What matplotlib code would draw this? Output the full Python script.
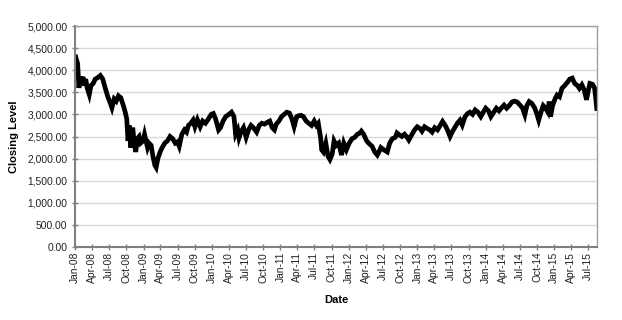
import matplotlib
matplotlib.use("Agg")
import matplotlib.pyplot as plt
import matplotlib.dates as mdates
import matplotlib.ticker as mticker
import pandas as pd

dates = [
"2008-01-02","2008-01-08","2008-01-15","2008-01-22","2008-01-29","2008-02-05","2008-02-12","2008-02-20","2008-02-27",
"2008-03-06","2008-03-17","2008-03-26","2008-04-07","2008-04-18","2008-05-01","2008-05-15","2008-05-28","2008-06-10",
"2008-06-24","2008-07-08","2008-07-16","2008-07-28","2008-08-08","2008-08-20","2008-09-01","2008-09-15","2008-09-25",
"2008-10-03","2008-10-10","2008-10-16","2008-10-24","2008-11-04","2008-11-12","2008-11-20","2008-11-28","2008-12-08",
"2008-12-16","2008-12-29",
"2009-01-06","2009-01-14","2009-01-22","2009-01-30","2009-02-10","2009-02-20","2009-03-02","2009-03-09","2009-03-18",
"2009-03-30","2009-04-10","2009-04-24","2009-05-08","2009-05-22","2009-06-05","2009-06-19","2009-07-01","2009-07-10",
"2009-07-24","2009-08-07","2009-08-18","2009-08-28","2009-09-10","2009-09-22","2009-10-02","2009-10-15","2009-10-30",
"2009-11-12","2009-11-27","2009-12-10","2009-12-28",
"2010-01-08","2010-01-20","2010-02-05","2010-02-15","2010-03-01","2010-03-15","2010-04-01","2010-04-15","2010-04-28",
"2010-05-07","2010-05-18","2010-05-25","2010-06-04","2010-06-18","2010-07-02","2010-07-15","2010-07-28","2010-08-10",
"2010-08-27","2010-09-10","2010-09-24","2010-10-08","2010-10-22","2010-11-05","2010-11-18","2010-11-30","2010-12-10",
"2010-12-24",
"2011-01-07","2011-01-21","2011-02-04","2011-02-18","2011-03-03","2011-03-15","2011-03-29","2011-04-08","2011-04-20",
"2011-05-04","2011-05-18","2011-06-01","2011-06-16","2011-06-30","2011-07-12","2011-07-22","2011-08-04","2011-08-09",
"2011-08-18","2011-08-31","2011-09-12","2011-09-22","2011-10-04","2011-10-14","2011-10-26","2011-11-08","2011-11-23",
"2011-12-05","2011-12-19",
"2012-01-03","2012-01-18","2012-02-01","2012-02-15","2012-03-01","2012-03-08","2012-03-20","2012-04-05","2012-04-20",
"2012-05-04","2012-05-18","2012-06-01","2012-06-06","2012-06-20","2012-07-05","2012-07-24","2012-08-06","2012-08-20",
"2012-09-05","2012-09-14","2012-09-28","2012-10-10","2012-10-24","2012-11-07","2012-11-16","2012-12-03","2012-12-17",
"2012-12-31",
"2013-01-15","2013-01-25","2013-02-08","2013-02-22","2013-03-08","2013-03-20","2013-04-03","2013-04-18","2013-05-02",
"2013-05-15","2013-05-28","2013-06-10","2013-06-24","2013-07-05","2013-07-19","2013-08-02","2013-08-16","2013-08-28",
"2013-09-12","2013-09-26","2013-10-08","2013-10-22","2013-11-05","2013-11-20","2013-12-05","2013-12-18","2013-12-31",
"2014-01-15","2014-01-28","2014-02-12","2014-02-26","2014-03-12","2014-03-26","2014-04-08","2014-04-22","2014-05-06",
"2014-05-20","2014-06-03","2014-06-17","2014-07-02","2014-07-15","2014-07-28","2014-08-08","2014-08-20","2014-09-03",
"2014-09-18","2014-10-01","2014-10-10","2014-10-22","2014-11-03","2014-11-14","2014-11-28","2014-12-05","2014-12-12",
"2014-12-23",
"2015-01-06","2015-01-16","2015-01-29","2015-02-11","2015-02-25","2015-03-11","2015-03-25","2015-04-07","2015-04-20",
"2015-05-05","2015-05-15","2015-05-28","2015-06-10","2015-06-22","2015-07-02","2015-07-10","2015-07-24","2015-08-04",
"2015-08-12","2015-08-17",
]

closing = [
4350,4250,4150,3600,3850,3700,3850,3650,3800,
3600,3450,3650,3700,3800,3830,3880,3800,3600,
3400,3250,3150,3350,3300,3420,3380,3200,3050,
2900,2400,2750,2250,2700,2350,2150,2450,2500,
2350,2400,
2550,2400,2250,2350,2300,2050,1850,1800,2000,
2150,2250,2350,2400,2500,2450,2350,2380,2280,
2550,2650,2600,2750,2800,2870,2720,2880,2720,
2850,2800,2880,3000,
3020,2900,2650,2700,2850,2950,3000,3050,2950,
2550,2650,2470,2600,2700,2480,2650,2750,2700,
2600,2750,2800,2780,2820,2850,2700,2650,2780,
2850,
2950,3000,3050,3030,2900,2720,2950,2970,2980,
2950,2850,2800,2750,2850,2750,2800,2450,2200,
2150,2350,2050,1980,2100,2400,2300,2350,2080,
2350,2200,
2350,2450,2480,2550,2580,2620,2550,2400,2330,
2280,2150,2080,2120,2250,2200,2150,2350,2450,
2480,2580,2530,2500,2550,2480,2420,2550,2650,
2720,
2680,2620,2720,2680,2650,2600,2700,2650,2750,
2840,2760,2650,2500,2600,2700,2800,2870,2760,
2950,3020,3050,3000,3100,3050,2950,3050,3140,
3080,2950,3050,3140,3080,3150,3210,3140,3200,
3280,3300,3280,3210,3150,2990,3200,3290,3250,
3150,3000,2870,3050,3200,3150,3050,3290,2950,
3200,
3360,3440,3400,3590,3650,3720,3800,3820,3700,
3650,3590,3670,3550,3330,3550,3700,3680,3600,
3300,3080,
]

y_ticks = [0, 500, 1000, 1500, 2000, 2500, 3000, 3500, 4000, 4500, 5000]

plt.rcParams['font.family'] = ['Liberation Sans', 'DejaVu Sans']

x = pd.to_datetime(dates)

fig = plt.figure(figsize=(6.22, 3.20), dpi=100)
ax = fig.add_axes([75/622, 73/320, (597-75)/622, (247-26)/320])

ax.plot(x, closing, color='black', lw=3.4, solid_joinstyle='miter', solid_capstyle='butt')

ax.set_ylim(0, 5000)
ax.set_yticks(y_ticks)
ax.yaxis.set_major_formatter(mticker.StrMethodFormatter('{x:,.2f}'))
ax.set_xlim(pd.Timestamp('2008-01-01'), x[-1])
ax.xaxis.set_major_locator(mdates.MonthLocator(bymonth=[1, 4, 7, 10]))
ax.xaxis.set_major_formatter(mdates.DateFormatter('%b-%y'))

ax.grid(axis='y', color='#d9d9d9', lw=1.0)
ax.set_axisbelow(True)

for s in ['top', 'right']:
    ax.spines[s].set_color('#a0a0a0')
    ax.spines[s].set_linewidth(1.0)
for s in ['left', 'bottom']:
    ax.spines[s].set_color('#808080')
    ax.spines[s].set_linewidth(1.5)

ax.tick_params(axis='both', direction='inout', length=5, width=1, color='#808080',
               labelcolor='#222222', labelsize=7.4)
ax.tick_params(axis='x', rotation=90, pad=1)
ax.tick_params(axis='y', pad=3)

ax.set_ylabel('Closing Level', fontsize=8, fontweight='bold', labelpad=6)
ax.set_xlabel('Date', fontsize=8, fontweight='bold', labelpad=8.5)

fig.savefig('out.png', dpi=100)
